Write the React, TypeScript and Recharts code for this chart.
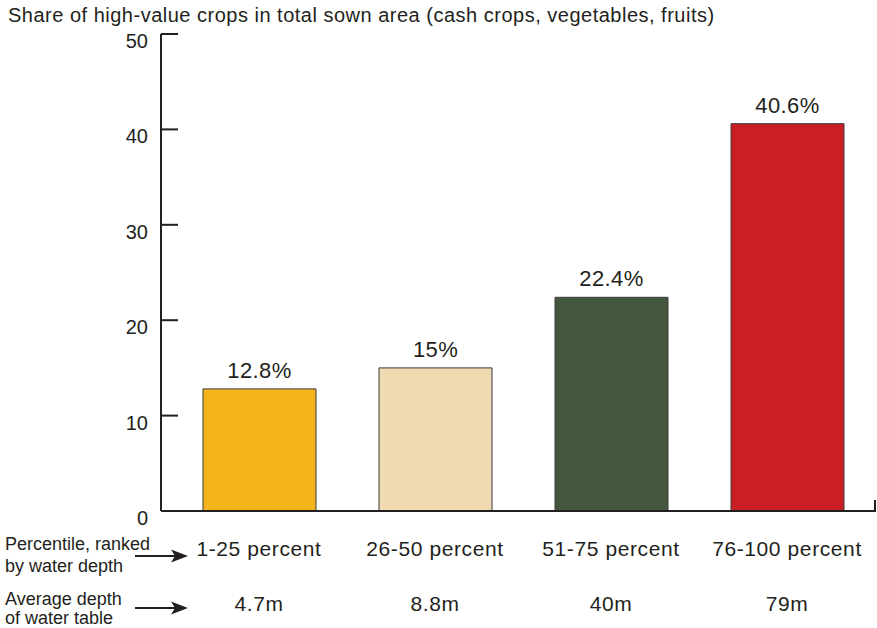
import { BarChart, Bar, XAxis, YAxis, Cell, LabelList } from "recharts";

const categories = ["1-25 percent", "26-50 percent", "51-75 percent", "76-100 percent"];
const shares = [12.8, 15, 22.4, 40.6];
const depths = ["4.7m", "8.8m", "40m", "79m"];
const barColors = ["#F4B41C", "#F0DAB2", "#43573C", "#C81E24"];
const yTicks = [0, 10, 20, 30, 40, 50];

const data = categories.map((c, i) => ({ cat: c, share: shares[i], depth: depths[i] }));

const ink = "#231f20";
const font = "'Liberation Sans', Arial, Helvetica, sans-serif";

function YTick({ x, y, payload }: any) {
  return (
    <g>
      <line x1={x + 13} x2={x + 30} y1={y} y2={y} stroke={ink} strokeWidth={2} />
      <text x={x} y={y} dy={14} textAnchor="end" fontSize={20} fill={ink} fontFamily={font}>
        {payload.value}
      </text>
    </g>
  );
}

function XTick({ x, y, payload }: any) {
  return (
    <g fontFamily={font} fill={ink} fontSize={21} letterSpacing={0.6}>
      <text x={x} y={y} dy={45} textAnchor="middle">{payload.value}</text>
      <text x={x} y={y} dy={100} textAnchor="middle">{depths[payload.index]}</text>
    </g>
  );
}

function Arrow({ y }: { y: number }) {
  return (
    <g>
      <line x1={135} x2={176} y1={y} y2={y} stroke={ink} strokeWidth={1.8} />
      <path d={`M188 ${y} L171 ${y - 6.5} L175 ${y} L171 ${y + 6.5} Z`} fill={ink} />
    </g>
  );
}

export default function App() {
  return (
    <div style={{ position: "absolute", left: 0, top: 0, width: 877, height: 628, background: "#fff" }}>
      <BarChart width={877} height={628} data={data} margin={{ top: 34, right: 2, bottom: 0, left: 101 }}>
        <YAxis
          domain={[0, 50]}
          ticks={yTicks}
          width={60}
          tickSize={0}
          tickMargin={13}
          tickLine={false}
          axisLine={{ stroke: ink, strokeWidth: 2 }}
          tick={<YTick />}
        />
        <XAxis
          dataKey="cat"
          height={117}
          tickSize={0}
          tickMargin={0}
          tickLine={false}
          padding={{ left: 10, right: 0 }}
          axisLine={{ stroke: ink, strokeWidth: 2 }}
          tick={<XTick />}
          interval={0}
        />
        <Bar dataKey="share" barSize={113} stroke="#3a3a3a" strokeWidth={1} isAnimationActive={false}>
          {data.map((d, i) => (
            <Cell key={d.cat} fill={barColors[i]} />
          ))}
          <LabelList
            dataKey="share"
            position="top"
            offset={11}
            formatter={(v: any) => `${v}%`}
            style={{ fontSize: 22, fill: ink, fontFamily: font, letterSpacing: 0.4 }}
          />
        </Bar>
      </BarChart>
      <svg width={877} height={628} style={{ position: "absolute", left: 0, top: 0, pointerEvents: "none" }}>
        <text x={8} y={22} fontSize={20} letterSpacing={0.5} fill={ink} fontFamily={font}>
          Share of high-value crops in total sown area (cash crops, vegetables, fruits)
        </text>
        <line x1={875} x2={875} y1={500} y2={512} stroke={ink} strokeWidth={2} />
        <g fontSize={18} fill={ink} fontFamily={font}>
          <text x={5} y={550}>Percentile, ranked</text>
          <text x={5} y={572}>by water depth</text>
          <text x={5} y={605}>Average depth</text>
          <text x={5} y={624}>of water table</text>
        </g>
        <Arrow y={556} />
        <Arrow y={608} />
      </svg>
    </div>
  );
}
